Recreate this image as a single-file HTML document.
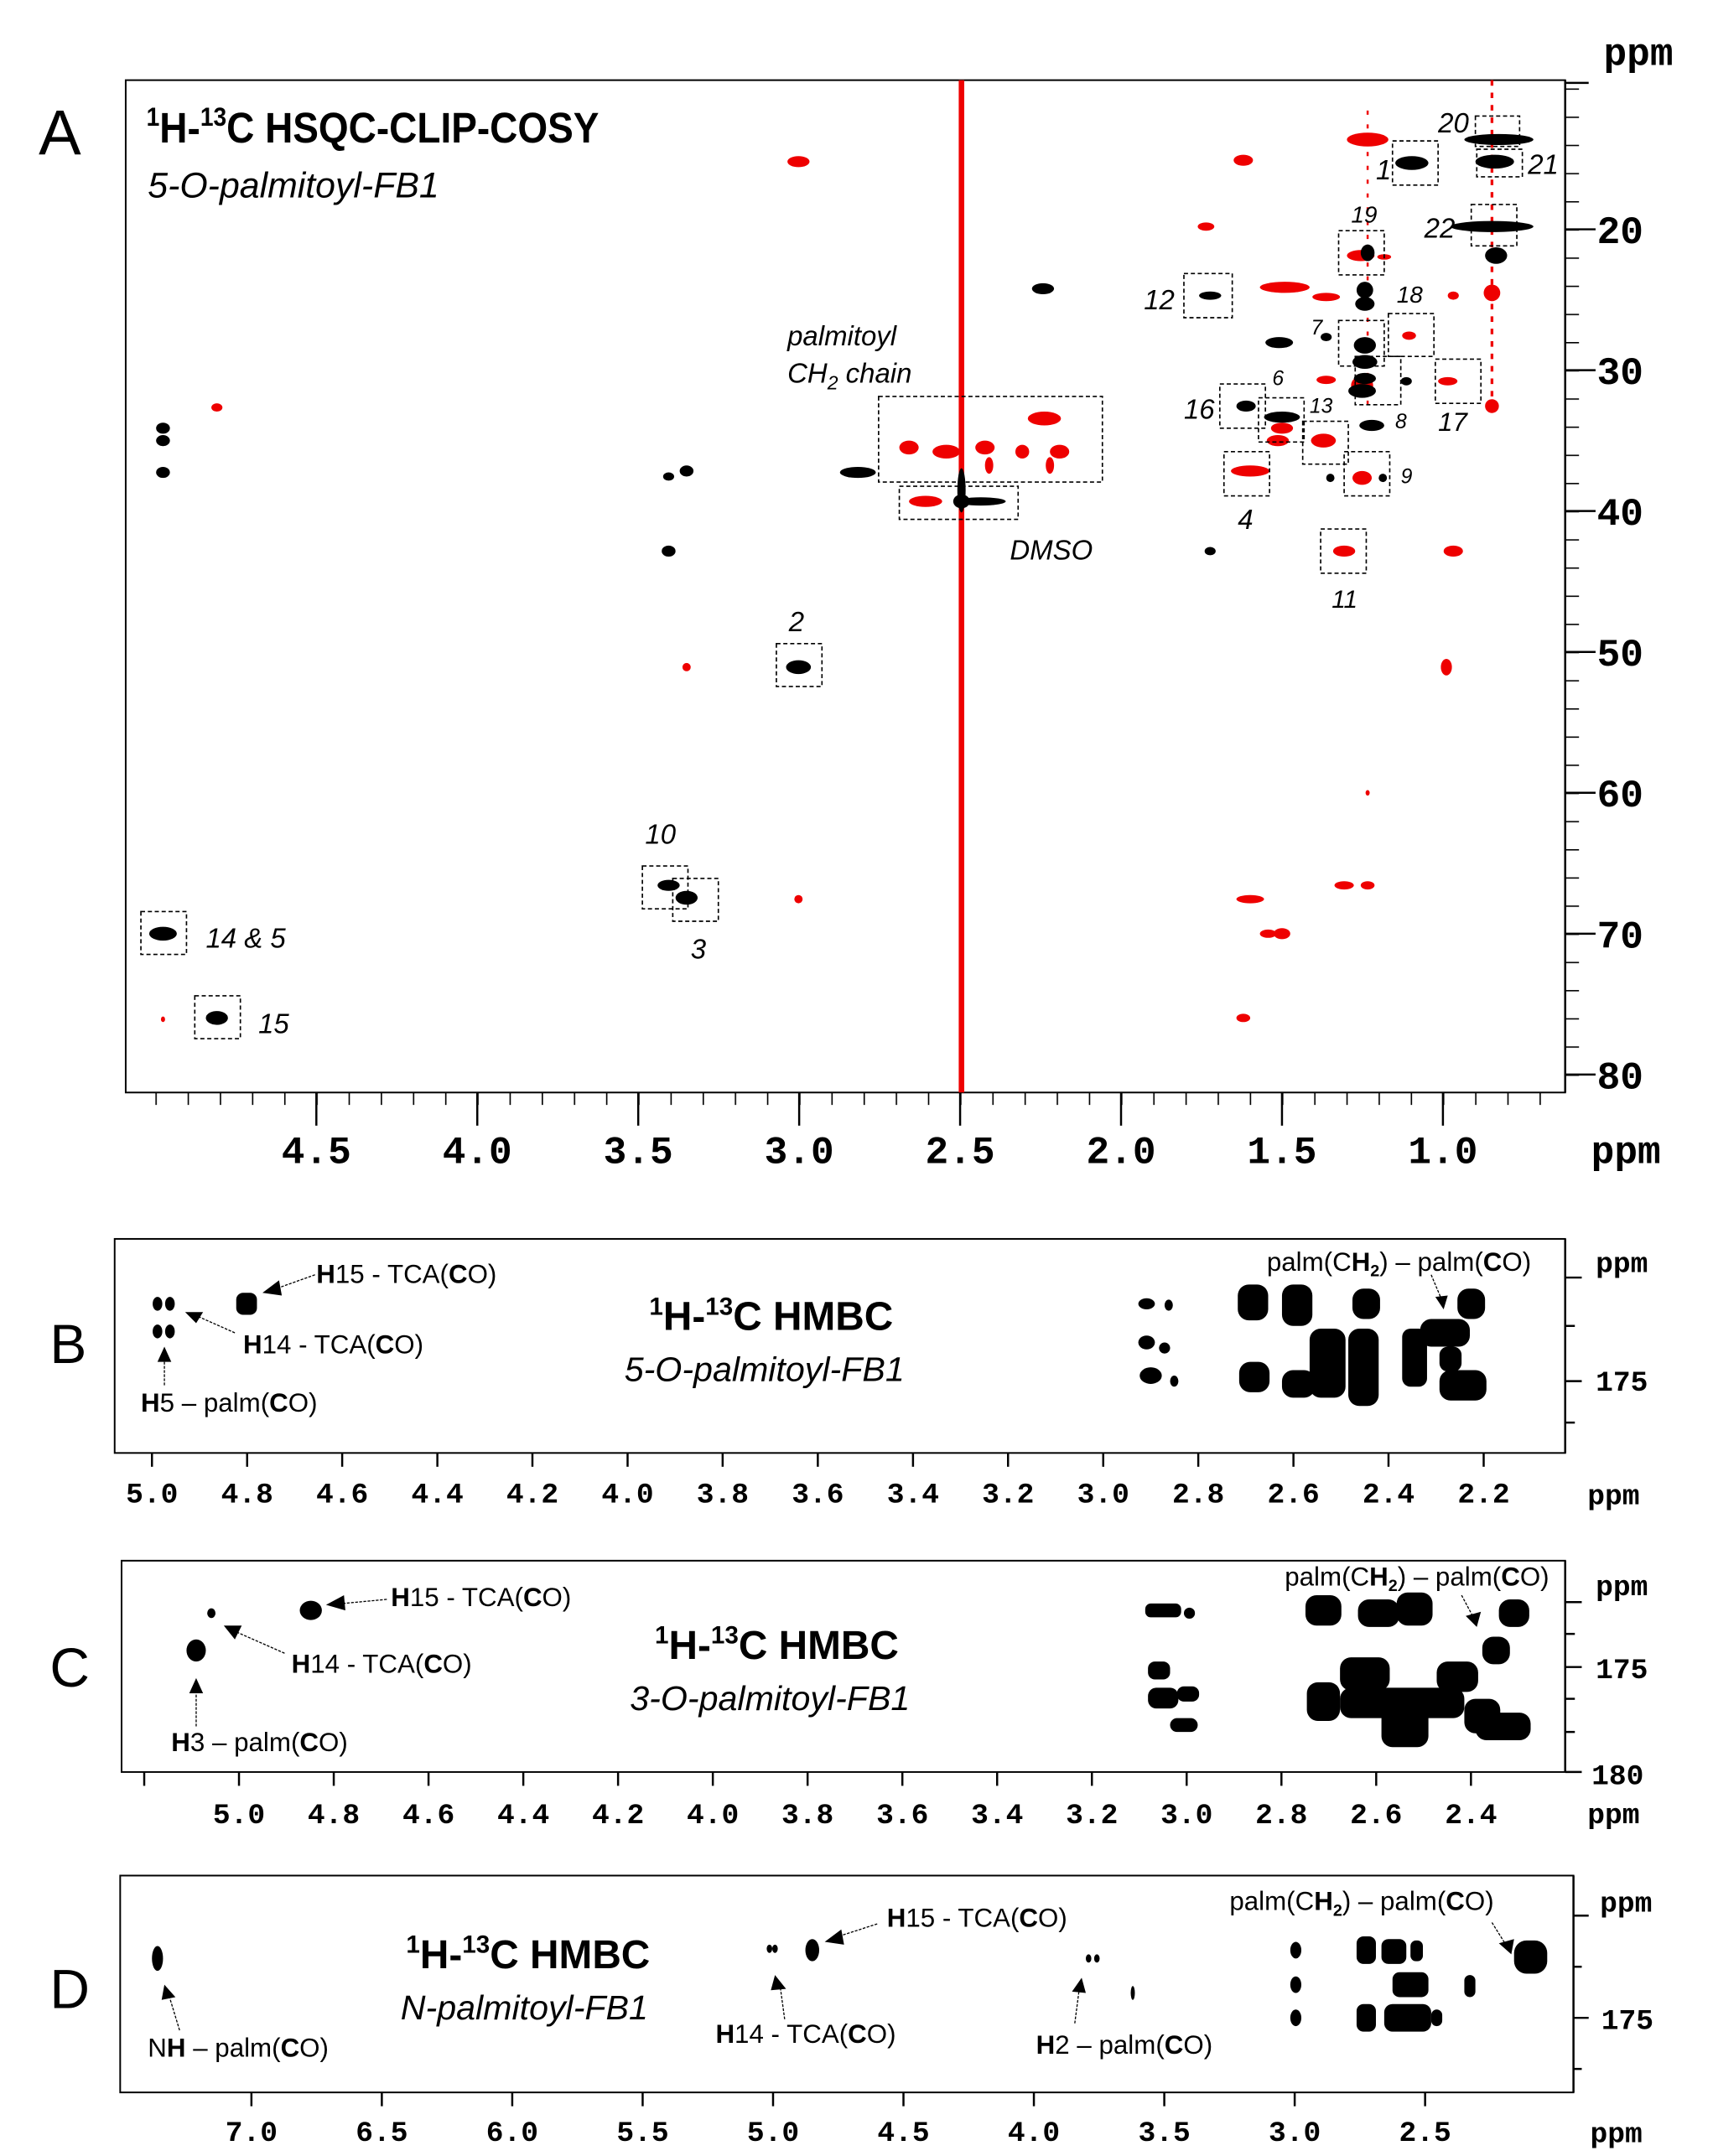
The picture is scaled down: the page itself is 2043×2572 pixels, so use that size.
<!DOCTYPE html>
<html><head><meta charset="utf-8"><style>
html,body{margin:0;padding:0;background:#fff}
svg{display:block}
.t{font-family:"Liberation Sans",sans-serif}
.m{font-family:"Liberation Mono",monospace;font-weight:bold}
</style></head><body>
<svg width="2043" height="2572" viewBox="0 0 1240 1561" xmlns="http://www.w3.org/2000/svg">
<defs>
<pattern id="tA" x="112.5" y="0" width="23.3" height="20" patternUnits="userSpaceOnUse"><line x1="0.5" y1="0" x2="0.5" y2="20" stroke="#000" stroke-width="1"/></pattern>
<pattern id="tAy" x="0" y="64" width="20" height="20.4" patternUnits="userSpaceOnUse"><line x1="0" y1="0.5" x2="20" y2="0.5" stroke="#000" stroke-width="1"/></pattern>
</defs>
<rect width="1240" height="1561" fill="#fff"/>

<!-- ===== Panel A ===== -->
<text x="28" y="112" class="t" font-size="46">A</text>
<rect x="91" y="58" width="1042" height="733" fill="none" stroke="#000" stroke-width="1.2"/>
<rect x="112" y="791" width="1021" height="9" fill="url(#tA)"/>
<g stroke="#000" stroke-width="1.5">
<line x1="229" y1="791" x2="229" y2="815"/><line x1="345.5" y1="791" x2="345.5" y2="815"/><line x1="462" y1="791" x2="462" y2="815"/><line x1="578.5" y1="791" x2="578.5" y2="815"/><line x1="695" y1="791" x2="695" y2="815"/><line x1="811.5" y1="791" x2="811.5" y2="815"/><line x1="928" y1="791" x2="928" y2="815"/><line x1="1044.5" y1="791" x2="1044.5" y2="815"/>
</g>
<g class="m" font-size="28" text-anchor="middle">
<text x="229" y="842">4.5</text><text x="345.5" y="842">4.0</text><text x="462" y="842">3.5</text><text x="578.5" y="842">3.0</text><text x="695" y="842">2.5</text><text x="811.5" y="842">2.0</text><text x="928" y="842">1.5</text><text x="1044.5" y="842">1.0</text>
<text x="1177" y="842">ppm</text><text x="1186" y="47">ppm</text>
</g>
<line x1="1133" y1="58" x2="1133" y2="791" stroke="#000" stroke-width="1.5"/>
<rect x="1133" y="64" width="10" height="720" fill="url(#tAy)"/>
<line x1="1133" y1="60" x2="1150" y2="60" stroke="#000" stroke-width="1.5"/>
<g stroke="#000" stroke-width="1.5"><line x1="1133" y1="166" x2="1155" y2="166"/><line x1="1133" y1="268" x2="1155" y2="268"/><line x1="1133" y1="370" x2="1155" y2="370"/><line x1="1133" y1="472" x2="1155" y2="472"/><line x1="1133" y1="574" x2="1155" y2="574"/><line x1="1133" y1="676" x2="1155" y2="676"/><line x1="1133" y1="778" x2="1155" y2="778"/></g>
<g class="m" font-size="28"><text x="1156" y="176">20</text><text x="1156" y="278">30</text><text x="1156" y="380">40</text><text x="1156" y="482">50</text><text x="1156" y="584">60</text><text x="1156" y="686">70</text><text x="1156" y="788">80</text></g>

<text x="106" y="103" class="t" font-size="31" font-weight="bold" transform="translate(106 0) scale(0.9 1) translate(-106 0)"><tspan font-size="19" dy="-12">1</tspan><tspan dy="12">H-</tspan><tspan font-size="19" dy="-12">13</tspan><tspan dy="12">C HSQC-CLIP-COSY</tspan></text>
<text x="107" y="143" class="t" font-size="26" font-style="italic">5-O-palmitoyl-FB1</text>

<line x1="696" y1="58" x2="696" y2="791" stroke="#e00" stroke-width="4"/>
<line x1="1080" y1="58" x2="1080" y2="300" stroke="#e00" stroke-width="2" stroke-dasharray="4 5"/>
<line x1="990" y1="80" x2="990" y2="300" stroke="#e00" stroke-width="1.5" stroke-dasharray="3 7"/>

<g fill="#e00">
<ellipse cx="578" cy="117" rx="8" ry="4"/><ellipse cx="900" cy="116" rx="7" ry="4"/><ellipse cx="990" cy="101" rx="15" ry="5"/><ellipse cx="873" cy="164" rx="6" ry="3"/>
<ellipse cx="985" cy="185" rx="10" ry="4"/><ellipse cx="1002" cy="186" rx="5" ry="2"/><ellipse cx="930" cy="208" rx="18" ry="4"/><ellipse cx="960" cy="215" rx="10" ry="3"/><ellipse cx="1052" cy="214" rx="4" ry="3"/>
<ellipse cx="1020" cy="243" rx="5" ry="3"/><ellipse cx="960" cy="275" rx="7" ry="3"/><ellipse cx="1048" cy="276" rx="7" ry="3"/><ellipse cx="986" cy="279" rx="8" ry="7"/>
<ellipse cx="928" cy="310" rx="8" ry="4"/><ellipse cx="925" cy="319" rx="8" ry="4"/><ellipse cx="958" cy="319" rx="9" ry="5"/><ellipse cx="986" cy="346" rx="7" ry="5"/><ellipse cx="905" cy="341" rx="14" ry="4"/>
<ellipse cx="1080" cy="212" rx="6" ry="6"/><ellipse cx="1080" cy="294" rx="5" ry="5"/>
<ellipse cx="658" cy="324" rx="7" ry="5"/><ellipse cx="685" cy="327" rx="10" ry="5"/><ellipse cx="713" cy="324" rx="7" ry="5"/><ellipse cx="740" cy="327" rx="5" ry="5"/><ellipse cx="767" cy="327" rx="7" ry="5"/><ellipse cx="756" cy="303" rx="12" ry="5"/><ellipse cx="760" cy="337" rx="3" ry="6"/><ellipse cx="716" cy="337" rx="3" ry="6"/>
<ellipse cx="670" cy="363" rx="12" ry="4"/>
<ellipse cx="157" cy="295" rx="4" ry="3"/><ellipse cx="497" cy="483" rx="3" ry="3"/><ellipse cx="973" cy="399" rx="8" ry="4"/><ellipse cx="1052" cy="399" rx="7" ry="4"/><ellipse cx="1047" cy="483" rx="4" ry="6"/>
<ellipse cx="578" cy="651" rx="3" ry="3"/><ellipse cx="905" cy="651" rx="10" ry="3"/><ellipse cx="973" cy="641" rx="7" ry="3"/><ellipse cx="990" cy="641" rx="5" ry="3"/><ellipse cx="918" cy="676" rx="6" ry="3"/><ellipse cx="928" cy="676" rx="6" ry="4"/><ellipse cx="900" cy="737" rx="5" ry="3"/><ellipse cx="118" cy="738" rx="1.5" ry="2"/><ellipse cx="990" cy="574" rx="1.5" ry="2"/>
</g>
<g fill="#000">
<ellipse cx="1022" cy="118" rx="12" ry="5"/><ellipse cx="1085" cy="101" rx="25" ry="4"/><ellipse cx="1082" cy="117" rx="14" ry="5"/><ellipse cx="1080" cy="164" rx="30" ry="4"/><ellipse cx="1083" cy="185" rx="8" ry="6"/>
<ellipse cx="990" cy="183" rx="5" ry="6"/><ellipse cx="755" cy="209" rx="8" ry="4"/><ellipse cx="876" cy="214" rx="8" ry="3"/><ellipse cx="988" cy="210" rx="6" ry="6"/><ellipse cx="988" cy="220" rx="7" ry="5"/>
<ellipse cx="926" cy="248" rx="10" ry="4"/><ellipse cx="988" cy="250" rx="8" ry="6"/><ellipse cx="988" cy="262" rx="9" ry="5"/><ellipse cx="988" cy="274" rx="8" ry="4"/><ellipse cx="986" cy="283" rx="10" ry="5"/><ellipse cx="1018" cy="276" rx="4" ry="3"/><ellipse cx="960" cy="244" rx="4" ry="3"/>
<ellipse cx="902" cy="294" rx="7" ry="4"/><ellipse cx="928" cy="302" rx="13" ry="4"/><ellipse cx="993" cy="308" rx="9" ry="4"/><ellipse cx="963" cy="346" rx="3" ry="3"/><ellipse cx="1001" cy="346" rx="3" ry="3"/>
<ellipse cx="621" cy="342" rx="13" ry="4"/><ellipse cx="118" cy="310" rx="5" ry="4"/><ellipse cx="118" cy="319" rx="5" ry="4"/><ellipse cx="118" cy="342" rx="5" ry="4"/>
<ellipse cx="484" cy="345" rx="4" ry="3"/><ellipse cx="497" cy="341" rx="5" ry="4"/><ellipse cx="484" cy="399" rx="5" ry="4"/><ellipse cx="876" cy="399" rx="4" ry="3"/>
<ellipse cx="710" cy="363" rx="18" ry="3"/><ellipse cx="696" cy="355" rx="3" ry="16"/><ellipse cx="696" cy="363" rx="6" ry="5"/>
<ellipse cx="578" cy="483" rx="9" ry="5"/><ellipse cx="484" cy="641" rx="8" ry="4"/><ellipse cx="497" cy="650" rx="8" ry="5"/>
<ellipse cx="118" cy="676" rx="10" ry="5"/><ellipse cx="157" cy="737" rx="8" ry="5"/>
</g>
<g fill="none" stroke="#000" stroke-width="1" stroke-dasharray="3 2">
<rect x="1008" y="102" width="33" height="32"/><rect x="1068" y="84" width="32" height="22"/><rect x="1069" y="108" width="33" height="20"/><rect x="1065" y="148" width="33" height="30"/>
<rect x="969" y="167" width="33" height="32"/><rect x="857" y="198" width="35" height="32"/><rect x="1005" y="227" width="33" height="31"/><rect x="969" y="232" width="33" height="33"/><rect x="981" y="258" width="33" height="35"/><rect x="1039" y="260" width="33" height="32"/>
<rect x="883" y="278" width="33" height="32"/><rect x="911" y="288" width="33" height="32"/><rect x="943" y="305" width="33" height="31"/><rect x="973" y="327" width="33" height="32"/><rect x="886" y="327" width="33" height="32"/><rect x="956" y="383" width="33" height="32"/>
<rect x="636" y="287" width="162" height="62"/><rect x="651" y="352" width="86" height="24"/>
<rect x="562" y="466" width="33" height="31"/><rect x="465" y="627" width="33" height="31"/><rect x="487" y="636" width="33" height="31"/><rect x="102" y="660" width="33" height="31"/><rect x="141" y="721" width="33" height="31"/>
</g>
<g class="t" font-size="20" font-style="italic">
<text x="996" y="130">1</text><text x="1041" y="96">20</text><text x="1106" y="126">21</text><text x="1031" y="172">22</text><text x="978" y="161" font-size="17">19</text><text x="1011" y="219" font-size="17">18</text><text x="828" y="224">12</text><text x="949" y="242" font-size="15">7</text><text x="921" y="279" font-size="15">6</text><text x="948" y="299" font-size="15">13</text><text x="1010" y="310" font-size="15">8</text><text x="1041" y="312" font-size="19">17</text><text x="857" y="303">16</text><text x="1014" y="350" font-size="15">9</text><text x="896" y="383">4</text><text x="964" y="440" font-size="18">11</text>
<text x="570" y="250">palmitoyl</text><text x="570" y="277">CH<tspan font-size="14" dy="5">2</tspan><tspan dy="-5"> chain</tspan></text><text x="731" y="405">DMSO</text>
<text x="571" y="457">2</text><text x="467" y="611">10</text><text x="500" y="694">3</text><text x="149" y="686">14 &amp; 5</text><text x="187" y="748">15</text>
</g>

<!-- ===== Panel B ===== -->
<text x="36" y="987" class="t" font-size="40">B</text>
<rect x="83" y="897" width="1050" height="155" fill="none" stroke="#000" stroke-width="1.2"/>
<g stroke="#000" stroke-width="1.5">
<line x1="110" y1="1052" x2="110" y2="1062"/><line x1="178.9" y1="1052" x2="178.9" y2="1062"/><line x1="247.7" y1="1052" x2="247.7" y2="1062"/><line x1="316.6" y1="1052" x2="316.6" y2="1062"/><line x1="385.4" y1="1052" x2="385.4" y2="1062"/><line x1="454.3" y1="1052" x2="454.3" y2="1062"/><line x1="523.1" y1="1052" x2="523.1" y2="1062"/><line x1="592" y1="1052" x2="592" y2="1062"/><line x1="660.9" y1="1052" x2="660.9" y2="1062"/><line x1="729.7" y1="1052" x2="729.7" y2="1062"/><line x1="798.6" y1="1052" x2="798.6" y2="1062"/><line x1="867.4" y1="1052" x2="867.4" y2="1062"/><line x1="936.3" y1="1052" x2="936.3" y2="1062"/><line x1="1005.1" y1="1052" x2="1005.1" y2="1062"/><line x1="1074" y1="1052" x2="1074" y2="1062"/>
<line x1="1133" y1="897" x2="1133" y2="1052"/><line x1="1133" y1="925" x2="1145" y2="925"/><line x1="1133" y1="1000" x2="1145" y2="1000"/><line x1="1133" y1="960" x2="1140" y2="960"/><line x1="1133" y1="1030" x2="1140" y2="1030"/>
</g>
<g class="m" font-size="21" text-anchor="middle">
<text x="110" y="1088">5.0</text><text x="178.9" y="1088">4.8</text><text x="247.7" y="1088">4.6</text><text x="316.6" y="1088">4.4</text><text x="385.4" y="1088">4.2</text><text x="454.3" y="1088">4.0</text><text x="523.1" y="1088">3.8</text><text x="592" y="1088">3.6</text><text x="660.9" y="1088">3.4</text><text x="729.7" y="1088">3.2</text><text x="798.6" y="1088">3.0</text><text x="867.4" y="1088">2.8</text><text x="936.3" y="1088">2.6</text><text x="1005.1" y="1088">2.4</text><text x="1074" y="1088">2.2</text>
<text x="1168" y="1089">ppm</text><text x="1174" y="921">ppm</text><text x="1174" y="1007">175</text>
</g>
<text x="470" y="963" class="t" font-size="29" font-weight="bold"><tspan font-size="18" dy="-11">1</tspan><tspan dy="11">H-</tspan><tspan font-size="18" dy="-11">13</tspan><tspan dy="11">C HMBC</tspan></text>
<text x="452" y="1000" class="t" font-size="25" font-style="italic">5-O-palmitoyl-FB1</text>
<g class="t" font-size="19">
<text x="229" y="929"><tspan font-weight="bold">H</tspan>15 - TCA(<tspan font-weight="bold">C</tspan>O)</text>
<text x="176" y="980"><tspan font-weight="bold">H</tspan>14 - TCA(<tspan font-weight="bold">C</tspan>O)</text>
<text x="102" y="1022"><tspan font-weight="bold">H</tspan>5 – palm(<tspan font-weight="bold">C</tspan>O)</text>
<text x="917" y="920">palm(C<tspan font-weight="bold">H</tspan><tspan font-size="12" dy="4" font-weight="bold">2</tspan><tspan dy="-4">) – palm(</tspan><tspan font-weight="bold">C</tspan>O)</text>
</g>
<g stroke="#000" stroke-width="0.8" stroke-dasharray="2 1" fill="none"><line x1="228" y1="923" x2="200" y2="933"/><line x1="170" y1="965" x2="143" y2="953"/><line x1="119" y1="1003" x2="119" y2="985"/><line x1="1036" y1="923" x2="1044" y2="942"/></g>
<g fill="#000"><polygon points="190,936 202,927 204,938"/><polygon points="134,950 147,950 142,958"/><polygon points="119,975 114,986 124,986"/><polygon points="1045,948 1039,939 1048,938"/>
<ellipse cx="114" cy="944" rx="3.5" ry="5"/><ellipse cx="123" cy="944" rx="3.5" ry="5"/><ellipse cx="114" cy="964" rx="3.5" ry="5"/><ellipse cx="123" cy="964" rx="3.5" ry="5"/><rect x="171" y="936" width="15" height="16" rx="5"/>
<ellipse cx="830" cy="944" rx="6" ry="4"/><ellipse cx="846" cy="945" rx="3" ry="4"/><ellipse cx="830" cy="972" rx="6" ry="5"/><ellipse cx="843" cy="976" rx="4" ry="4"/><ellipse cx="833" cy="996" rx="8" ry="6"/><ellipse cx="850" cy="1000" rx="3" ry="4"/>
<rect x="896" y="930" width="22" height="26" rx="8"/><rect x="928" y="930" width="22" height="30" rx="8"/><rect x="979" y="933" width="20" height="22" rx="8"/><rect x="1055" y="933" width="20" height="22" rx="8"/>
<rect x="948" y="962" width="26" height="50" rx="8"/><rect x="976" y="962" width="22" height="56" rx="8"/><rect x="1028" y="955" width="36" height="20" rx="8"/><rect x="1015" y="962" width="18" height="42" rx="6"/><rect x="1042" y="975" width="16" height="18" rx="6"/>
<rect x="897" y="986" width="22" height="22" rx="8"/><rect x="928" y="992" width="24" height="20" rx="8"/><rect x="1042" y="992" width="34" height="22" rx="8"/>
</g>

<!-- ===== Panel C ===== -->
<text x="36" y="1221" class="t" font-size="40">C</text>
<rect x="88" y="1130" width="1045" height="153" fill="none" stroke="#000" stroke-width="1.2"/>
<g stroke="#000" stroke-width="1.5">
<line x1="104.4" y1="1283" x2="104.4" y2="1293"/><line x1="173" y1="1283" x2="173" y2="1293"/><line x1="241.6" y1="1283" x2="241.6" y2="1293"/><line x1="310.2" y1="1283" x2="310.2" y2="1293"/><line x1="378.8" y1="1283" x2="378.8" y2="1293"/><line x1="447.4" y1="1283" x2="447.4" y2="1293"/><line x1="516" y1="1283" x2="516" y2="1293"/><line x1="584.6" y1="1283" x2="584.6" y2="1293"/><line x1="653.2" y1="1283" x2="653.2" y2="1293"/><line x1="721.8" y1="1283" x2="721.8" y2="1293"/><line x1="790.4" y1="1283" x2="790.4" y2="1293"/><line x1="859" y1="1283" x2="859" y2="1293"/><line x1="927.6" y1="1283" x2="927.6" y2="1293"/><line x1="996.2" y1="1283" x2="996.2" y2="1293"/><line x1="1064.8" y1="1283" x2="1064.8" y2="1293"/>
<line x1="1133" y1="1130" x2="1133" y2="1283"/><line x1="1133" y1="1160" x2="1145" y2="1160"/><line x1="1133" y1="1207" x2="1145" y2="1207"/><line x1="1133" y1="1283" x2="1145" y2="1283"/><line x1="1133" y1="1183" x2="1140" y2="1183"/><line x1="1133" y1="1230" x2="1140" y2="1230"/><line x1="1133" y1="1254" x2="1140" y2="1254"/>
</g>
<g class="m" font-size="21" text-anchor="middle">
<text x="173" y="1320">5.0</text><text x="241.6" y="1320">4.8</text><text x="310.2" y="1320">4.6</text><text x="378.8" y="1320">4.4</text><text x="447.4" y="1320">4.2</text><text x="516" y="1320">4.0</text><text x="584.6" y="1320">3.8</text><text x="653.2" y="1320">3.6</text><text x="721.8" y="1320">3.4</text><text x="790.4" y="1320">3.2</text><text x="859" y="1320">3.0</text><text x="927.6" y="1320">2.8</text><text x="996.2" y="1320">2.6</text><text x="1064.8" y="1320">2.4</text>
<text x="1168" y="1320">ppm</text><text x="1174" y="1155">ppm</text><text x="1174" y="1215">175</text><text x="1171" y="1292">180</text>
</g>
<text x="474" y="1201" class="t" font-size="29" font-weight="bold"><tspan font-size="18" dy="-11">1</tspan><tspan dy="11">H-</tspan><tspan font-size="18" dy="-11">13</tspan><tspan dy="11">C HMBC</tspan></text>
<text x="456" y="1238" class="t" font-size="25" font-style="italic">3-O-palmitoyl-FB1</text>
<g class="t" font-size="19">
<text x="283" y="1163"><tspan font-weight="bold">H</tspan>15 - TCA(<tspan font-weight="bold">C</tspan>O)</text>
<text x="211" y="1211"><tspan font-weight="bold">H</tspan>14 - TCA(<tspan font-weight="bold">C</tspan>O)</text>
<text x="124" y="1268"><tspan font-weight="bold">H</tspan>3 – palm(<tspan font-weight="bold">C</tspan>O)</text>
<text x="930" y="1148">palm(C<tspan font-weight="bold">H</tspan><tspan font-size="12" dy="4" font-weight="bold">2</tspan><tspan dy="-4">) – palm(</tspan><tspan font-weight="bold">C</tspan>O)</text>
</g>
<g stroke="#000" stroke-width="0.8" stroke-dasharray="2 1" fill="none"><line x1="280" y1="1158" x2="248" y2="1161"/><line x1="206" y1="1197" x2="172" y2="1182"/><line x1="142" y1="1250" x2="142" y2="1225"/><line x1="1058" y1="1155" x2="1066" y2="1170"/></g>
<g fill="#000"><polygon points="236,1162 249,1155 250,1166"/><polygon points="162,1177 175,1177 170,1187"/><polygon points="142,1215 137,1226 147,1226"/><polygon points="1069,1178 1061,1170 1072,1167"/>
<ellipse cx="153" cy="1168" rx="3" ry="3.5"/><ellipse cx="142" cy="1195" rx="7" ry="8"/><ellipse cx="225" cy="1166" rx="8" ry="7"/>
<rect x="829" y="1161" width="26" height="10" rx="4"/><ellipse cx="861" cy="1168" rx="4" ry="4"/><rect x="831" y="1203" width="16" height="13" rx="5"/><rect x="831" y="1222" width="22" height="15" rx="6"/><rect x="852" y="1221" width="16" height="11" rx="5"/><rect x="847" y="1244" width="20" height="10" rx="5"/>
<rect x="945" y="1155" width="26" height="22" rx="8"/><rect x="983" y="1158" width="30" height="20" rx="8"/><rect x="1011" y="1153" width="26" height="24" rx="8"/><rect x="1085" y="1158" width="22" height="20" rx="8"/><rect x="1073" y="1185" width="20" height="20" rx="8"/>
<rect x="946" y="1218" width="24" height="28" rx="8"/><rect x="970" y="1200" width="36" height="24" rx="8"/><rect x="970" y="1222" width="90" height="22" rx="8"/><rect x="1000" y="1235" width="34" height="30" rx="8"/><rect x="1040" y="1203" width="30" height="22" rx="8"/><rect x="1060" y="1230" width="26" height="25" rx="8"/><rect x="1068" y="1240" width="40" height="20" rx="8"/>
</g>

<!-- ===== Panel D ===== -->
<text x="36" y="1454" class="t" font-size="40">D</text>
<rect x="87" y="1358" width="1052" height="157" fill="none" stroke="#000" stroke-width="1.2"/>
<g stroke="#000" stroke-width="1.5">
<line x1="182" y1="1515" x2="182" y2="1525"/><line x1="276.4" y1="1515" x2="276.4" y2="1525"/><line x1="370.8" y1="1515" x2="370.8" y2="1525"/><line x1="465.2" y1="1515" x2="465.2" y2="1525"/><line x1="559.6" y1="1515" x2="559.6" y2="1525"/><line x1="654" y1="1515" x2="654" y2="1525"/><line x1="748.4" y1="1515" x2="748.4" y2="1525"/><line x1="842.8" y1="1515" x2="842.8" y2="1525"/><line x1="937.2" y1="1515" x2="937.2" y2="1525"/><line x1="1031.6" y1="1515" x2="1031.6" y2="1525"/>
<line x1="1139" y1="1358" x2="1139" y2="1515"/><line x1="1139" y1="1387" x2="1150" y2="1387"/><line x1="1139" y1="1461" x2="1150" y2="1461"/><line x1="1139" y1="1424" x2="1145" y2="1424"/><line x1="1139" y1="1498" x2="1145" y2="1498"/>
</g>
<g class="m" font-size="21" text-anchor="middle">
<text x="182" y="1550">7.0</text><text x="276.4" y="1550">6.5</text><text x="370.8" y="1550">6.0</text><text x="465.2" y="1550">5.5</text><text x="559.6" y="1550">5.0</text><text x="654" y="1550">4.5</text><text x="748.4" y="1550">4.0</text><text x="842.8" y="1550">3.5</text><text x="937.2" y="1550">3.0</text><text x="1031.6" y="1550">2.5</text>
<text x="1170" y="1551">ppm</text><text x="1177" y="1384">ppm</text><text x="1178" y="1469">175</text>
</g>
<text x="294" y="1425" class="t" font-size="29" font-weight="bold"><tspan font-size="18" dy="-11">1</tspan><tspan dy="11">H-</tspan><tspan font-size="18" dy="-11">13</tspan><tspan dy="11">C HMBC</tspan></text>
<text x="290" y="1462" class="t" font-size="25" font-style="italic">N-palmitoyl-FB1</text>
<g class="t" font-size="19">
<text x="642" y="1395"><tspan font-weight="bold">H</tspan>15 - TCA(<tspan font-weight="bold">C</tspan>O)</text>
<text x="518" y="1479"><tspan font-weight="bold">H</tspan>14 - TCA(<tspan font-weight="bold">C</tspan>O)</text>
<text x="750" y="1487"><tspan font-weight="bold">H</tspan>2 – palm(<tspan font-weight="bold">C</tspan>O)</text>
<text x="107" y="1489">N<tspan font-weight="bold">H</tspan> – palm(<tspan font-weight="bold">C</tspan>O)</text>
<text x="890" y="1383">palm(C<tspan font-weight="bold">H</tspan><tspan font-size="12" dy="4" font-weight="bold">2</tspan><tspan dy="-4">) – palm(</tspan><tspan font-weight="bold">C</tspan>O)</text>
</g>
<g stroke="#000" stroke-width="0.8" stroke-dasharray="2 1" fill="none"><line x1="635" y1="1393" x2="607" y2="1402"/><line x1="568" y1="1462" x2="565" y2="1440"/><line x1="778" y1="1465" x2="781" y2="1442"/><line x1="130" y1="1470" x2="123" y2="1447"/><line x1="1080" y1="1392" x2="1090" y2="1408"/></g>
<g fill="#000"><polygon points="597,1406 609,1397 611,1408"/><polygon points="561,1430 558,1441 569,1440"/><polygon points="783,1432 776,1442 786,1443"/><polygon points="119,1437 117,1448 127,1446"/><polygon points="1094,1415 1085,1407 1096,1404"/>
<ellipse cx="114" cy="1418" rx="4" ry="9"/><ellipse cx="588" cy="1412" rx="5" ry="8"/><ellipse cx="557" cy="1411" rx="2" ry="3"/><ellipse cx="561" cy="1411" rx="2" ry="3"/>
<ellipse cx="788" cy="1418" rx="2" ry="3"/><ellipse cx="794" cy="1418" rx="2" ry="3"/><ellipse cx="820" cy="1443" rx="1.5" ry="5"/>
<ellipse cx="938" cy="1412" rx="4" ry="6"/><ellipse cx="938" cy="1437" rx="4" ry="6"/><ellipse cx="938" cy="1461" rx="4" ry="6"/>
<rect x="982" y="1402" width="14" height="20" rx="5"/><rect x="1000" y="1404" width="18" height="18" rx="5"/><rect x="1021" y="1405" width="9" height="15" rx="4"/>
<rect x="1008" y="1428" width="26" height="18" rx="5"/><rect x="1060" y="1430" width="8" height="16" rx="4"/><rect x="982" y="1451" width="14" height="20" rx="5"/><rect x="1002" y="1451" width="34" height="20" rx="6"/><rect x="1036" y="1455" width="8" height="12" rx="4"/>
<rect x="1096" y="1405" width="24" height="24" rx="9"/>
</g>
</svg>
</body></html>
